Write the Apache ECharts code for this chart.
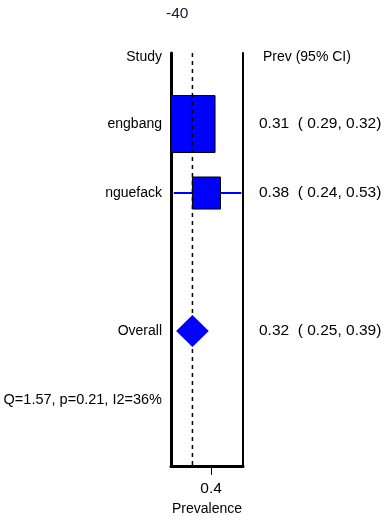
<!DOCTYPE html>
<html>
<head>
<meta charset="utf-8">
<script src="https://cdn.jsdelivr.net/npm/echarts@6/dist/echarts.min.js"></script>
<style>
html,body{margin:0;padding:0;background:#fff;}
#chart{width:387px;height:521px;}
</style>
</head>
<body>
<div id="chart"></div>
<script>
// ---- data ----
const studies = ['engbang', 'nguefack'];
const prev = [0.31, 0.38];
const lower = [0.29, 0.24];
const upper = [0.32, 0.53];
const weights = [64, 36];
const overallLabel = 'Overall';
const overallPrev = 0.32;
const overallLower = 0.25;
const overallUpper = 0.39;
const heterogeneity = 'Q=1.57, p=0.21, I2=36%';
const headerLeft = 'Study';
const headerRight = 'Prev (95% CI)';
const xTicks = [0.4];
const xName = 'Prevalence';
const topLabel = '-40';
// row indices
const studyRows = [1, 2];
const overallRow = 4;
const hetRow = 5;
const headerRow = 0;

// ---- build ----
const X_MIN = 0.228, X_MAX = 0.537;
const Y_MIN = -0.03, Y_MAX = 5.957;
const f2 = v => v.toFixed(2);
const ciText = (p, l, u) => f2(p) + '  ( ' + f2(l) + ', ' + f2(u) + ')';

const leftMap = {}, rightMap = {};
leftMap[headerRow] = '{h|' + headerLeft + '}';
rightMap[headerRow] = '{h|' + headerRight + '}';
studies.forEach((s, i) => {
  leftMap[studyRows[i]] = '{t|' + s + '}';
  rightMap[studyRows[i]] = '{n|' + ciText(prev[i], lower[i], upper[i]) + '}';
});
leftMap[overallRow] = '{t|' + overallLabel + '}';
rightMap[overallRow] = '{n|' + ciText(overallPrev, overallLower, overallUpper) + '}';
leftMap[hetRow] = '{n|' + heterogeneity + '}';
const labelRows = [headerRow].concat(studyRows, [overallRow, hetRow]);

const FONT = 'Liberation Sans, Arial, sans-serif';
const FS = 14;
const FSN = 15.5;

const studyData = studies.map((s, i) => [prev[i], studyRows[i], weights[i], lower[i], upper[i]]);

function gridRect(params) {
  return {x: params.coordSys.x, y: params.coordSys.y, width: params.coordSys.width, height: params.coordSys.height};
}

const richL = {
  h: {fontSize: FS, fontFamily: FONT, color: '#000', padding: [4, 0, 0, 0]},
  t: {fontSize: FS, fontFamily: FONT, color: '#000'},
  n: {fontSize: 14.5, fontFamily: FONT, color: '#000'}
};
const richR = {
  h: {fontSize: FS, fontFamily: FONT, color: '#000', padding: [4, 0, 0, 4]},
  n: {fontSize: FSN, fontFamily: FONT, color: '#000'}
};

const chart = echarts.init(document.getElementById('chart'), null, {renderer: 'canvas'});
chart.setOption({
  animation: false,
  backgroundColor: '#fff',
  grid: {left: 171, right: 144, top: 53, bottom: 55, containLabel: false, outerBoundsMode: 'none'},
  graphic: [{
    type: 'text', left: 166, top: 6,
    style: {text: topLabel, font: FSN + 'px ' + FONT, fill: '#1a1a33'}
  }],
  xAxis: {
    type: 'value', min: X_MIN, max: X_MAX, position: 'bottom',
    splitLine: {show: false},
    axisLine: {show: true, onZero: false, lineStyle: {color: '#000', width: 3}},
    axisTick: {show: true, customValues: xTicks, length: 9, lineStyle: {color: '#000', width: 1}},
    axisLabel: {customValues: xTicks, formatter: v => String(v), margin: 15, color: '#000', fontSize: FSN, fontFamily: FONT},
    name: xName, nameLocation: 'middle', nameGap: 36,
    nameTextStyle: {color: '#000', fontSize: FS, fontFamily: FONT}
  },
  yAxis: [{
    type: 'value', min: Y_MIN, max: Y_MAX, inverse: true, position: 'left',
    splitLine: {show: false},
    axisLine: {show: true, onZero: false, lineStyle: {color: '#000', width: 3}},
    axisTick: {show: false},
    axisLabel: {customValues: labelRows, formatter: v => leftMap[v] || '', margin: 9, rich: richL}
  }, {
    type: 'value', min: Y_MIN, max: Y_MAX, inverse: true, position: 'right',
    splitLine: {show: false},
    axisLine: {show: true, onZero: false, lineStyle: {color: '#000', width: 2}},
    axisTick: {show: false},
    axisLabel: {customValues: labelRows, formatter: v => rightMap[v] || '', margin: 16, align: 'left', rich: richR}
  }],
  series: [{
    // CI lines
    type: 'custom', z: 2, data: studyData,
    renderItem: function (params, api) {
      const a = api.coord([api.value(3), api.value(1)]);
      const b = api.coord([api.value(4), api.value(1)]);
      const pts = echarts.graphic.clipPointsByRect([a, b], gridRect(params));
      return {type: 'polyline', shape: {points: pts}, style: {stroke: '#0000ff', lineWidth: 2, fill: null}};
    }
  }, {
    // boxes
    type: 'custom', z: 3, data: studyData,
    renderItem: function (params, api) {
      const c = api.coord([api.value(0), api.value(1)]);
      const h = api.value(2) * 0.89;
      const w = h * 0.875;
      const r = echarts.graphic.clipRectByRect({x: c[0] - w / 2, y: c[1] - h / 2, width: w, height: h}, gridRect(params));
      if (!r) return;
      return {type: 'rect', shape: r, style: {fill: '#0000ff', stroke: '#000', lineWidth: 1}};
    }
  }, {
    // dashed reference line at overall estimate
    type: 'line', z: 4, symbol: 'none', silent: true,
    data: [[overallPrev, Y_MIN], [overallPrev, Y_MAX]],
    lineStyle: {color: '#000', width: 1.5, type: [4, 4]}
  }, {
    // overall diamond
    type: 'custom', z: 5, data: [[overallPrev, overallRow, overallLower, overallUpper]],
    renderItem: function (params, api) {
      const y = api.value(1);
      const l = api.coord([api.value(2), y]);
      const u = api.coord([api.value(3), y]);
      const c = api.coord([api.value(0), y]);
      const hh = 16;
      return {type: 'polygon', shape: {points: [[l[0], c[1]], [c[0], c[1] - hh], [u[0], c[1]], [c[0], c[1] + hh]]},
        style: {fill: '#0000ff', stroke: null}};
    }
  }]
});
</script>
</body>
</html>
